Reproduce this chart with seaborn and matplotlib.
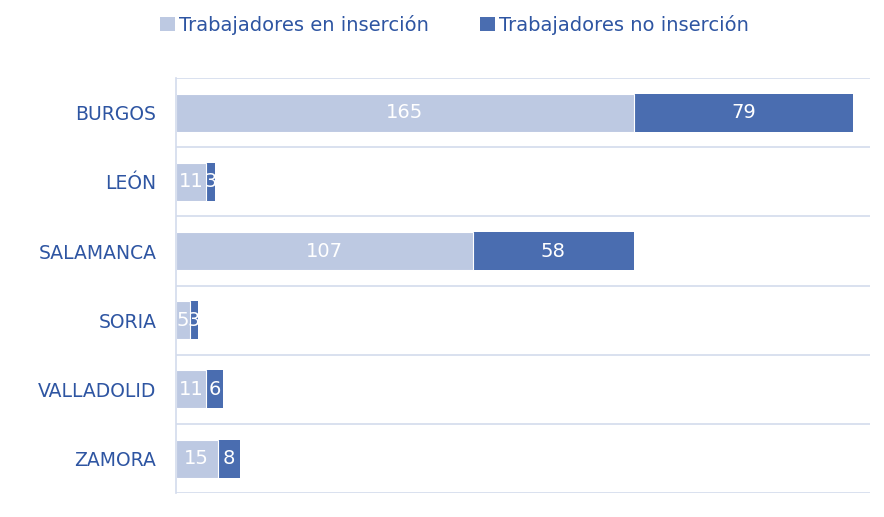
import numpy as np
import pandas as pd
import matplotlib.pyplot as plt
import seaborn as sns
from matplotlib.ticker import FixedLocator
from matplotlib.patches import Patch

# Datos
provincias = ['BURGOS', 'LEÓN', 'SALAMANCA', 'SORIA', 'VALLADOLID', 'ZAMORA']
insercion = [165, 11, 107, 5, 11, 15]
no_insercion = [79, 3, 58, 3, 6, 8]

df = pd.DataFrame({'Provincia': provincias,
                   'Insercion': insercion,
                   'NoInsercion': no_insercion})
df['Total'] = df['Insercion'] + df['NoInsercion']

claro = '#BDC9E2'
oscuro = '#4A6DB0'
texto = '#2E55A2'
linea = '#D3DBEC'

sns.set_style('white')
fig = plt.figure(figsize=(8.84, 5.17), dpi=100)
ax = fig.add_axes([0.199, 0.046, 0.785, 0.803])

# barra total (oscura) y encima la parte de inserción (clara)
sns.barplot(data=df, x='Total', y='Provincia', color=oscuro, width=0.55,
            saturation=1, ax=ax, edgecolor='none')
sns.barplot(data=df, x='Insercion', y='Provincia', color=claro, width=0.55,
            saturation=1, ax=ax, edgecolor='white', linewidth=0.8)

# etiquetas de valor
c_total, c_ins = ax.containers[0], ax.containers[1]
ax.bar_label(c_ins, labels=[str(v) for v in insercion], label_type='center',
             color='white', fontsize=14)
for rect, v in zip(c_total, no_insercion):
    w = rect.get_width()
    y = rect.get_y() + rect.get_height() / 2
    ax.text(w - v / 2, y, str(v), ha='center', va='center', color='white', fontsize=14)

ax.set_xlim(0, 250)
ax.set_ylim(len(provincias) - 0.5, -0.5)
ax.set_xlabel('')
ax.set_ylabel('')
ax.set_xticks([])
ax.yaxis.set_minor_locator(FixedLocator(np.arange(-0.5, len(provincias), 1)))
ax.grid(which='minor', axis='y', color=linea, linewidth=1.2)
ax.tick_params(axis='y', which='both', length=0, pad=14, labelsize=13.5, labelcolor=texto)
for s in ['top', 'right', 'bottom']:
    ax.spines[s].set_visible(False)
ax.spines['left'].set_color(linea)
ax.spines['left'].set_linewidth(1.2)
ax.set_axisbelow(True)

handles = [Patch(facecolor=claro, edgecolor='none', label='Trabajadores en inserción'),
           Patch(facecolor=oscuro, edgecolor='none', label='Trabajadores no inserción')]
leg = fig.legend(handles=handles, loc='center', bbox_to_anchor=(0.514, 0.952), ncol=2,
                 frameon=False, fontsize=14, handlelength=0.8, handleheight=0.8,
                 handletextpad=0.2, columnspacing=2.6, labelcolor=texto)

fig.savefig('out.png', dpi=100)
